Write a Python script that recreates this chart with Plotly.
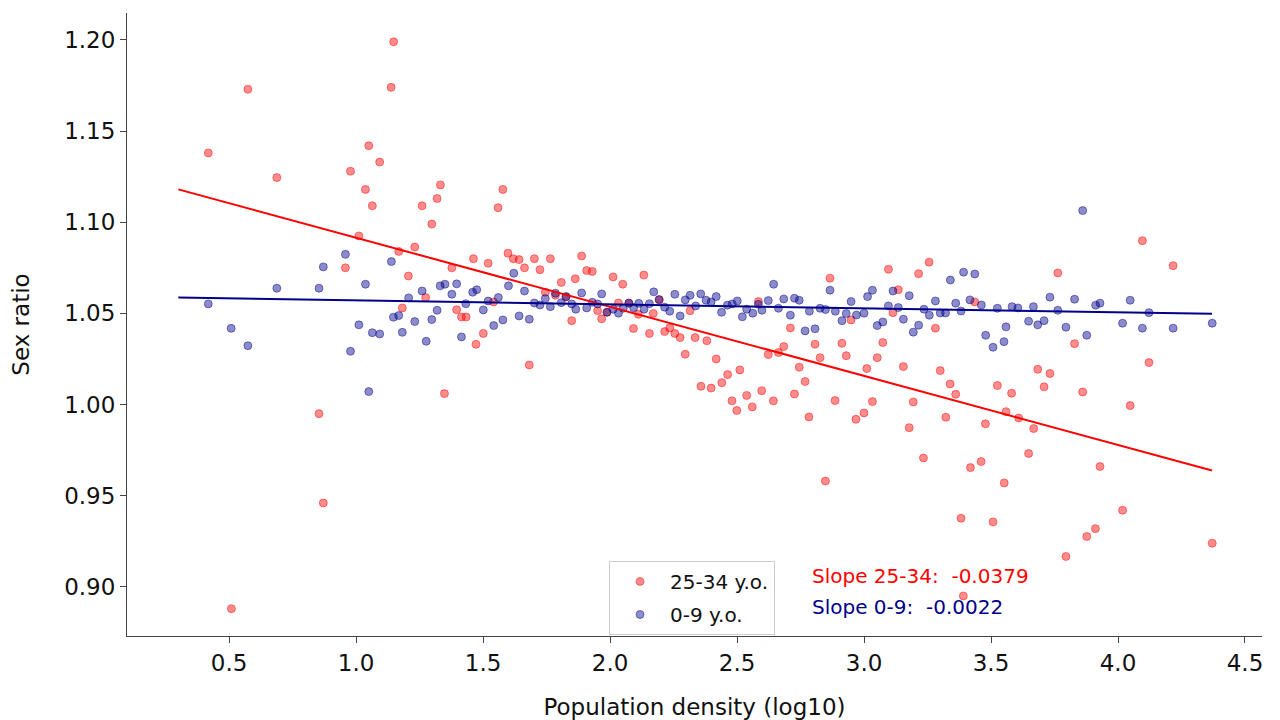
import plotly.graph_objects as go

# log10 population density and sex ratio, ages 25-34
density_25_34 = [
    0.418, 0.509, 0.574, 0.688, 0.854, 0.871, 0.958, 0.978, 1.011, 1.037,
    1.050, 1.064, 1.093, 1.138, 1.148, 1.168, 1.182, 1.206, 1.231, 1.260,
    1.274, 1.298, 1.319, 1.332, 1.348, 1.377, 1.396, 1.415, 1.433, 1.462,
    1.472, 1.501, 1.520, 1.541, 1.559, 1.578, 1.598, 1.619, 1.642, 1.663,
    1.682, 1.702, 1.724, 1.745, 1.765, 1.785, 1.808, 1.826, 1.849, 1.863,
    1.888, 1.908, 1.930, 1.951, 1.967, 1.988, 2.012, 2.033, 2.050, 2.074,
    2.092, 2.111, 2.133, 2.155, 2.170, 2.194, 2.215, 2.235, 2.255, 2.276,
    2.296, 2.315, 2.335, 2.358, 2.381, 2.398, 2.418, 2.440, 2.463, 2.480,
    2.499, 2.511, 2.538, 2.560, 2.584, 2.597, 2.623, 2.643, 2.663, 2.684,
    2.710, 2.726, 2.745, 2.768, 2.783, 2.807, 2.827, 2.848, 2.866, 2.886,
    2.913, 2.930, 2.949, 2.968, 3.000, 3.011, 3.033, 3.052, 3.074, 3.096,
    3.114, 3.135, 3.155, 3.178, 3.194, 3.215, 3.234, 3.256, 3.281, 3.300,
    3.322, 3.339, 3.361, 3.382, 3.391, 3.419, 3.436, 3.461, 3.478, 3.508,
    3.525, 3.552, 3.559, 3.581, 3.609, 3.648, 3.668, 3.684, 3.709, 3.732,
    3.763, 3.795, 3.829, 3.861, 3.877, 3.911, 3.929, 4.018, 4.048, 4.096,
    4.122, 4.217, 4.371,
]
ratio_25_34 = [
    1.138, 0.888, 1.173, 1.1245, 0.995, 0.946, 1.075, 1.128, 1.0925, 1.118,
    1.142, 1.109, 1.133, 1.174, 1.199, 1.084, 1.053, 1.0705, 1.0864, 1.109,
    1.0587, 1.099, 1.113, 1.1205, 1.006, 1.075, 1.052, 1.048, 1.048, 1.080,
    1.033, 1.039, 1.0775, 1.0563, 1.108, 1.118, 1.083, 1.080, 1.0795, 1.075,
    1.0217, 1.080, 1.074, 1.0616, 1.080, 1.060, 1.067, 1.059, 1.046, 1.069,
    1.0815, 1.0735, 1.073, 1.0515, 1.047, 1.0506, 1.070, 1.0557, 1.066, 1.0555,
    1.0417, 1.0495, 1.071, 1.039, 1.050, 1.0574, 1.040, 1.042, 1.039, 1.0367,
    1.0276, 1.0515, 1.0367, 1.010, 1.035, 1.009, 1.025, 1.012, 1.0164, 1.002,
    0.9967, 1.019, 1.005, 0.9987, 1.0565, 1.0076, 1.0274, 1.002, 1.0285, 1.0318,
    1.042, 1.0058, 1.0205, 1.0126, 0.9932, 1.0331, 1.0257, 0.958, 1.0693, 1.0022,
    1.0336, 1.0268, 1.0464, 0.9919, 0.9954, 1.0197, 1.0016, 1.0257, 1.034, 1.0742,
    1.0504, 1.063, 1.0208, 0.9873, 1.0014, 1.0718, 0.9707, 1.0781, 1.0419, 1.0186,
    0.993, 1.0113, 1.0056, 0.9376, 0.895, 0.9654, 1.0563, 0.9687, 0.9894, 0.9356,
    1.0104, 0.957, 0.9961, 1.0062, 0.9926, 0.9731, 0.9868, 1.0193, 1.0097, 1.017,
    1.0722, 0.9166, 1.0334, 1.0069, 0.9276, 0.9319, 0.966, 0.942, 0.9994, 1.0899,
    1.023, 1.0762, 0.9239,
]

# log10 population density and sex ratio, ages 0-9
density_0_9 = [
    0.418, 0.508, 0.574, 0.688, 0.854, 0.871, 0.958, 0.978, 1.011, 1.037,
    1.050, 1.064, 1.093, 1.139, 1.147, 1.168, 1.182, 1.207, 1.231, 1.260,
    1.276, 1.298, 1.319, 1.331, 1.350, 1.377, 1.396, 1.415, 1.432, 1.459,
    1.475, 1.501, 1.520, 1.542, 1.560, 1.578, 1.600, 1.621, 1.642, 1.663,
    1.682, 1.702, 1.724, 1.745, 1.765, 1.785, 1.808, 1.827, 1.849, 1.865,
    1.888, 1.908, 1.930, 1.951, 1.967, 1.988, 2.012, 2.033, 2.052, 2.074,
    2.093, 2.113, 2.134, 2.155, 2.172, 2.193, 2.215, 2.235, 2.255, 2.276,
    2.296, 2.315, 2.337, 2.357, 2.378, 2.398, 2.418, 2.439, 2.462, 2.481,
    2.501, 2.521, 2.538, 2.562, 2.584, 2.598, 2.623, 2.644, 2.663, 2.684,
    2.710, 2.726, 2.745, 2.768, 2.785, 2.807, 2.827, 2.848, 2.866, 2.887,
    2.913, 2.930, 2.949, 2.970, 3.000, 3.014, 3.033, 3.052, 3.074, 3.096,
    3.114, 3.135, 3.155, 3.178, 3.194, 3.215, 3.236, 3.257, 3.281, 3.300,
    3.321, 3.340, 3.361, 3.382, 3.392, 3.417, 3.436, 3.462, 3.479, 3.508,
    3.525, 3.551, 3.559, 3.583, 3.606, 3.648, 3.667, 3.684, 3.709, 3.732,
    3.763, 3.795, 3.829, 3.861, 3.877, 3.912, 3.929, 4.018, 4.048, 4.096,
    4.122, 4.217, 4.371,
]
ratio_0_9 = [
    1.0552, 1.0418, 1.0323, 1.0638, 1.0638, 1.0755, 1.0824, 1.0292, 1.0437, 1.066,
    1.0071, 1.0394, 1.0387, 1.0784, 1.0479, 1.0488, 1.0396, 1.0585, 1.0455, 1.0623,
    1.0347, 1.0466, 1.0517, 1.0651, 1.066, 1.0605, 1.0662, 1.0371, 1.0553, 1.0616,
    1.063, 1.0519, 1.0568, 1.0433, 1.0587, 1.0464, 1.0651, 1.072, 1.0486, 1.0623,
    1.0468, 1.0557, 1.0546, 1.0581, 1.0537, 1.0611, 1.0559, 1.0592, 1.0552, 1.0523,
    1.0612, 1.053, 1.0561, 1.0552, 1.0607, 1.0506, 1.0523, 1.0501, 1.0528, 1.0557,
    1.0531, 1.0555, 1.0523, 1.0553, 1.0618, 1.0576, 1.0534, 1.0512, 1.0605, 1.0486,
    1.0574, 1.0599, 1.0541, 1.0607, 1.0572, 1.0563, 1.0592, 1.0506, 1.0545, 1.0552,
    1.0568, 1.0481, 1.0523, 1.0501, 1.055, 1.0517, 1.057, 1.066, 1.0528, 1.0579,
    1.049, 1.0583, 1.0572, 1.0404, 1.0512, 1.0415, 1.0528, 1.0521, 1.0627, 1.0512,
    1.046, 1.0499, 1.0565, 1.0491, 1.0501, 1.0592, 1.0627, 1.0433, 1.0453, 1.0541,
    1.0623, 1.0532, 1.0468, 1.0597, 1.0397, 1.0435, 1.0523, 1.049, 1.0568, 1.0502,
    1.0502, 1.0683, 1.0556, 1.0513, 1.0726, 1.0574, 1.0716, 1.0546, 1.038, 1.0314,
    1.0528, 1.0345, 1.0426, 1.0537, 1.053, 1.0457, 1.0537, 1.0437, 1.046, 1.0589,
    1.0517, 1.0424, 1.0578, 1.1064, 1.038, 1.0545, 1.0556, 1.0446, 1.0572, 1.0419,
    1.0504, 1.0419, 1.0446,
]

# fitted regression lines (slope, intercept) and their x span
slope_25_34, intercept_25_34 = -0.0379, 1.1294
slope_0_9, intercept_0_9 = -0.0022, 1.0594
fit_x = [0.3, 4.37]

x_ticks = [0.5, 1.0, 1.5, 2.0, 2.5, 3.0, 3.5, 4.0, 4.5]
y_ticks = [0.90, 0.95, 1.00, 1.05, 1.10, 1.15, 1.20]

RED = "#ff0000"
NAVY = "#00008b"
FONT = "DejaVu Sans"

fig = go.Figure()

fig.add_trace(go.Scatter(
    x=density_25_34, y=ratio_25_34, mode="markers", name="25-34 y.o.",
    legendgroup="a",
    marker=dict(size=8, color="rgba(255,0,0,0.45)",
                line=dict(color="rgba(255,0,0,0.45)", width=1)),
))
fig.add_trace(go.Scatter(
    x=density_0_9, y=ratio_0_9, mode="markers", name="0-9 y.o.",
    legendgroup="b",
    marker=dict(size=8, color="rgba(0,0,139,0.45)",
                line=dict(color="rgba(0,0,139,0.45)", width=1)),
))

fig.add_trace(go.Scatter(
    x=fit_x, y=[intercept_25_34 + slope_25_34 * v for v in fit_x],
    mode="lines", line=dict(color=RED, width=2), showlegend=False,
    hoverinfo="skip",
))
fig.add_trace(go.Scatter(
    x=fit_x, y=[intercept_0_9 + slope_0_9 * v for v in fit_x],
    mode="lines", line=dict(color=NAVY, width=2), showlegend=False,
    hoverinfo="skip",
))

fig.add_annotation(
    x=2.787, y=0.906, xref="x", yref="y", xanchor="left", yanchor="middle",
    text=f"Slope 25-34:\u00a0 {slope_25_34:.4f}", showarrow=False,
    font=dict(family=FONT, size=20, color=RED),
)
fig.add_annotation(
    x=2.787, y=0.889, xref="x", yref="y", xanchor="left", yanchor="middle",
    text=f"Slope 0-9:\u00a0 {slope_0_9:.4f}", showarrow=False,
    font=dict(family=FONT, size=20, color=NAVY),
)

axis_common = dict(
    showgrid=False, zeroline=False, showline=True, linecolor="#444",
    linewidth=1, ticks="outside", ticklen=6, tickcolor="#444", tickwidth=1,
    tickfont=dict(family=FONT, size=23, color="#111"), mirror=False,
    automargin=False,
)

fig.update_xaxes(
    range=[0.098, 4.567], tickvals=x_ticks,
    ticktext=[f"{v:.1f}" for v in x_ticks],
    title=dict(text="Population density (log10)", standoff=24,
               font=dict(family=FONT, size=23, color="#111")),
    **axis_common,
)
fig.update_yaxes(
    range=[0.873, 1.2148], tickvals=y_ticks,
    ticktext=[f"{v:.2f}" for v in y_ticks],
    title=dict(text="Sex ratio", standoff=28,
               font=dict(family=FONT, size=23, color="#111")),
    **axis_common,
)

fig.update_layout(
    width=1280, height=720,
    margin=dict(l=127, r=18, t=13, b=84),
    paper_bgcolor="white", plot_bgcolor="white",
    font=dict(family=FONT),
    showlegend=True,
    legend=dict(
        x=0.4247, y=0.1204, xanchor="left", yanchor="top",
        bgcolor="white", bordercolor="#cccccc", borderwidth=1,
        font=dict(family=FONT, size=20, color="#111"),
        tracegroupgap=4, itemwidth=50,
    ),
)

fig.write_html("out.html")
